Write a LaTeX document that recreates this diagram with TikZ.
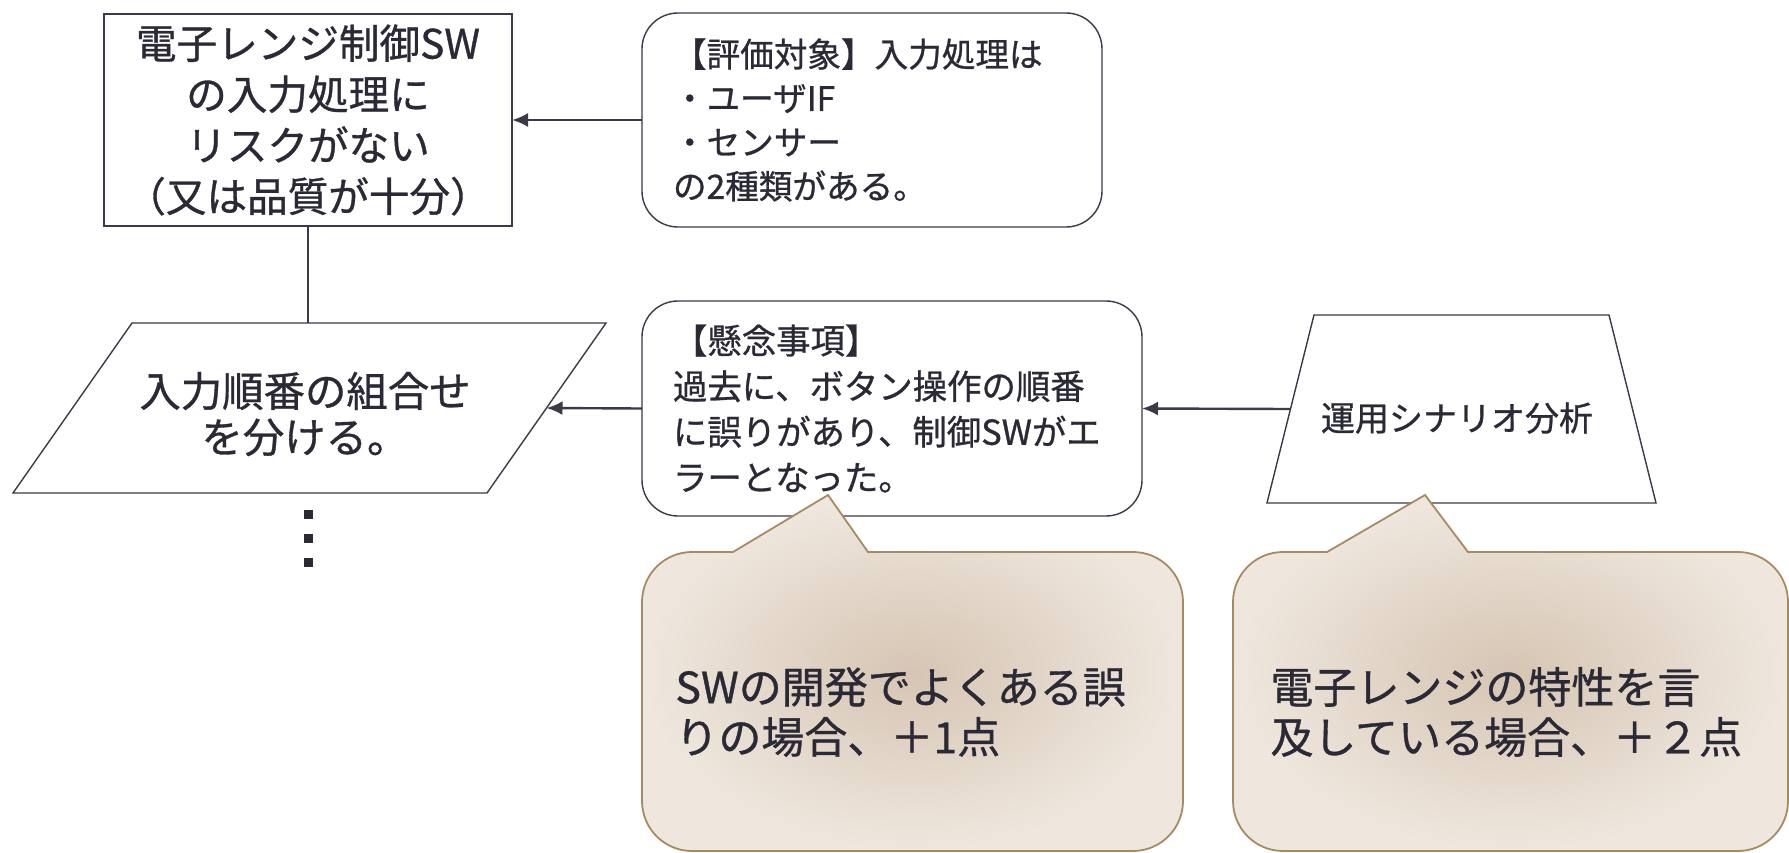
\documentclass[tikz,border=0pt]{standalone}
\usepackage{fontspec}
\setmainfont{Noto Sans CJK JP}[FakeBold=0.8]
\usetikzlibrary{arrows.meta}
\definecolor{ink}{HTML}{2A2A36}
\definecolor{edgec}{HTML}{3A3A48}
\definecolor{callborder}{HTML}{A88A62}
\definecolor{callin}{HTML}{D6C5B3}
\definecolor{callout}{HTML}{EFE7DE}
\begin{document}
\begin{tikzpicture}[x=0.5pt,y=-0.5pt,
  shapebox/.style={draw=edgec, line width=0.7pt, fill=white, text=ink, inner sep=0pt, outer sep=0pt},
  shapeline/.style={draw=edgec, line width=0.7pt, fill=white},
  label/.style={text=ink, inner sep=0pt, align=center},
  conn/.style={draw=edgec, line width=1.2pt, -{Latex[length=8pt,width=7pt]}},
  plain/.style={draw=edgec, line width=0.6pt},
  dotsq/.style={fill=ink, minimum size=4.5pt, inner sep=0pt, outer sep=0pt},
  calltext/.style={text=ink, anchor=west, align=left, inner sep=0pt, font=\fontsize{21.5pt}{25pt}\selectfont},
  callshape/.style={draw=callborder, line width=0.9pt, shading=radial, inner color=callin, outer color=callout}
]
\useasboundingbox (0,0) rectangle (1789,852);
\clip (0,0) rectangle (1789,852);

\node[shapebox, rectangle, minimum width=204pt, minimum height=106pt, align=center,
  font=\fontsize{20.3pt}{25.5pt}\selectfont] (goal) at (308,120)
  {電子レンジ制御SW\\の入力処理に\\リスクがない\\（又は品質が十分）};

\node[shapebox, rounded corners=18pt, minimum width=230pt, minimum height=107pt,
  text width=199pt, inner xsep=15.5pt, align=left,
  font=\fontsize{16.8pt}{22pt}\selectfont] (target) at (872,120)
  {【評価対象】入力処理は\\・ユーザIF\\・センサー\\の2種類がある。};

\node[shapebox, rounded corners=18pt, minimum width=250pt, minimum height=107.5pt,
  text width=219pt, inner xsep=15.5pt, align=left,
  font=\fontsize{17.2pt}{22.8pt}\selectfont] (concern) at (892,408.5)
  {【懸念事項】\\過去に、ボタン操作の順番\\に誤りがあり、制御SWがエ\\ラーとなった。};

% parallelogram
\coordinate (pTL) at (132,323);
\coordinate (pTR) at (606,323);
\coordinate (pBR) at (487,493);
\coordinate (pBL) at (13,493);
\path[shapeline] (pTL) -- (pTR) -- (pBR) -- (pBL) -- cycle;
\node[label, font=\fontsize{20.7pt}{23pt}\selectfont] (split) at (305,414)
  {入力順番の組合せ\\を分ける。};
\coordinate (splitE) at (546.5,408);
\coordinate (splitN) at (308,323);

% trapezoid
\coordinate (tTL) at (1314,315);
\coordinate (tTR) at (1609,315);
\coordinate (tBR) at (1656,503);
\coordinate (tBL) at (1267,503);
\path[shapeline] (tTL) -- (tTR) -- (tBR) -- (tBL) -- cycle;
\node[label, font=\fontsize{17pt}{20pt}\selectfont] (scen) at (1457,418) {運用シナリオ分析};
\coordinate (scenW) at (1290.5,409);

\draw[conn] (target.west) -- (goal.east);
\draw[plain] (goal.south) -- (splitN);
\draw[conn] (concern.west) -- (splitE);
\draw[conn] (scenW) -- (concern.east);

\node[dotsq] (d1) at (308,514) {};
\node[dotsq] (d2) at (308,538) {};
\node[dotsq] (d3) at (308,562) {};

\path[callshape] (733,552) -- (828,495) -- (868,552) -- (1133,552)
  .. controls (1160.6,552) and (1183,574.4) .. (1183,602) -- (1183,801)
  .. controls (1183,828.6) and (1160.6,851) .. (1133,851) -- (692,851)
  .. controls (664.4,851) and (642,828.6) .. (642,801) -- (642,602)
  .. controls (642,574.4) and (664.4,552) .. (692,552) -- cycle;

\path[callshape] (1327,552) -- (1425,495) -- (1468,552) -- (1738,552)
  .. controls (1765.6,552) and (1788,574.4) .. (1788,602) -- (1788,801)
  .. controls (1788,828.6) and (1765.6,851) .. (1738,851) -- (1283,851)
  .. controls (1255.4,851) and (1233,828.6) .. (1233,801) -- (1233,602)
  .. controls (1233,574.4) and (1255.4,552) .. (1283,552) -- cycle;

\node[calltext] (hint1) at (675,712) {SWの開発でよくある誤\\りの場合、＋1点};
\node[calltext] (hint2) at (1270,712) {電子レンジの特性を言\\及している場合、＋２点};
\end{tikzpicture}
\end{document}
